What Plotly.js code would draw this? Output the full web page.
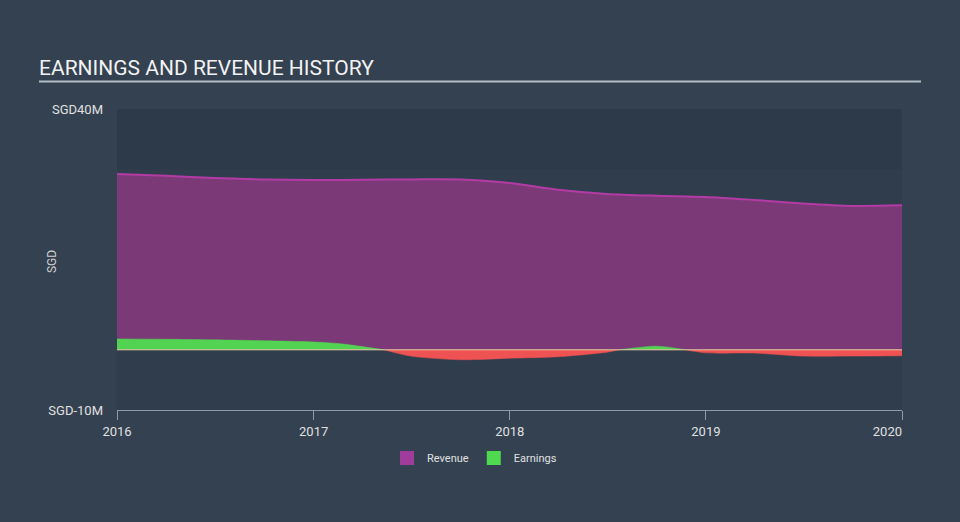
<!DOCTYPE html>
<html>
<head>
<meta charset="utf-8">
<script src="https://cdn.plot.ly/plotly-3.0.1.min.js"></script>
<style>
html,body{margin:0;padding:0;background:#334151;}
#chart{width:960px;height:522px;}
</style>
</head>
<body>
<div id="chart"></div>
<script>
// ---- data (SGD millions) ----
const revenueDates = ['2016-01-01','2016-04-01','2016-07-01','2016-10-01','2017-01-01','2017-04-01','2017-07-01','2017-10-01','2018-01-01','2018-04-01','2018-07-01','2018-10-01','2019-01-01','2019-04-01','2019-07-01','2019-10-01','2020-01-01'];
const revenue = [29.2, 28.9, 28.55, 28.3, 28.2, 28.25, 28.3, 28.3, 27.7, 26.6, 25.9, 25.6, 25.4, 24.9, 24.3, 23.9, 24.0];

const earningsDates = ['2016-01-01','2016-04-01','2016-07-01','2016-10-01','2017-01-01','2017-02-20','2017-05-12','2017-07-01','2017-10-01','2018-01-01','2018-04-01','2018-07-01','2018-07-24','2018-10-01','2018-11-24','2019-01-01','2019-04-01','2019-07-01','2019-10-01','2020-01-01'];
const earnings = [1.8, 1.75, 1.65, 1.5, 1.3, 1.0, 0, -1.05, -1.65, -1.4, -1.15, -0.4, 0, 0.6, 0, -0.5, -0.55, -1.05, -1.05, -1.0];

const yTickVals = [40, -10];
const yTickText = ['SGD40M', 'SGD-10M'];
const xTickVals = ['2016-01-01','2017-01-01','2018-01-01','2019-01-01','2020-01-01'];
const xTickText = ['2016','2017','2018','2019','2020\u2007\u2007\u2007\u2007'];

const earnPos = earnings.map(v => v >= 0 ? v : null);
const earnNeg = earnings.map(v => v <= 0 ? v : null);

const traces = [
  {x: revenueDates, y: revenue, type: 'scatter', mode: 'lines', name: 'Revenue',
   line: {color: '#b43ba5', width: 2, shape: 'spline', smoothing: 0.8},
   fill: 'tozeroy', fillcolor: '#7b3a77', showlegend: false, hoverinfo: 'skip'},
  {x: earningsDates, y: earnPos, type: 'scatter', mode: 'lines', name: 'Earnings',
   line: {color: '#52d452', width: 0.5, shape: 'spline', smoothing: 0.8},
   fill: 'tozeroy', fillcolor: '#52d452', connectgaps: false, showlegend: false, hoverinfo: 'skip'},
  {x: earningsDates, y: earnNeg, type: 'scatter', mode: 'lines', name: 'Earnings (loss)',
   line: {color: '#ee5252', width: 0.5, shape: 'spline', smoothing: 0.8},
   fill: 'tozeroy', fillcolor: '#ee5252', connectgaps: false, showlegend: false, hoverinfo: 'skip'},
  // legend entries
  {x: [null], y: [null], type: 'scatter', mode: 'markers', name: 'Revenue',
   marker: {symbol: 'square', size: 14, color: '#a03d9c'}},
  {x: [null], y: [null], type: 'scatter', mode: 'markers', name: 'Earnings',
   marker: {symbol: 'square', size: 14, color: '#4fd94f'}}
];

const layout = {
  width: 960, height: 522,
  paper_bgcolor: '#334151',
  plot_bgcolor: '#2f3d4d',
  font: {family: 'Roboto, sans-serif', color: '#e0e0e0'},
  margin: {l: 117, r: 58, t: 109, b: 112, pad: 0},
  title: {text: 'EARNINGS AND REVENUE HISTORY', font: {family: 'Roboto', size: 21, color: '#f2f2f2'},
          xref: 'container', yref: 'container', x: 39/960, xanchor: 'left', y: 1 - 68/522, yanchor: 'middle'},
  xaxis: {type: 'date', range: ['2016-01-01', '2020-01-01'], tickvals: xTickVals, ticktext: xTickText,
          ticks: 'outside', ticklen: 9, tickcolor: '#8d9aa8', tickwidth: 1,
          showline: true, linecolor: '#8d9aa8', linewidth: 1, showgrid: false, zeroline: false,
          tickfont: {size: 13, color: '#e0e0e0'}, fixedrange: true},
  yaxis: {range: [-10, 40], tickvals: yTickVals, ticktext: yTickText, ticks: '',
          showline: false, showgrid: false, zeroline: false, ticklabelstandoff: 13,
          tickfont: {size: 13, color: '#e0e0e0'}, fixedrange: true},
  shapes: [
    {type: 'rect', xref: 'paper', yref: 'y', x0: 0, x1: 1, y0: 30, y1: 40, fillcolor: '#2c3a49', line: {width: 0}, layer: 'below'},
    {type: 'line', xref: 'paper', yref: 'y', x0: 0, x1: 1, y0: 0, y1: 0, line: {color: '#e8cda2', width: 1}, layer: 'above'},
    {type: 'line', xref: 'paper', yref: 'paper', x0: (39-117)/785, x1: (921-117)/785, y0: (410-81.5)/301, y1: (410-81.5)/301,
     line: {color: '#b3bcc6', width: 2}}
  ],
  annotations: [
    {text: 'SGD', textangle: -90, xref: 'paper', yref: 'paper', x: (52-117)/785, y: (410-262)/301,
     xanchor: 'center', yanchor: 'middle', showarrow: false, font: {size: 12, color: '#d0d0d0'}}
  ],
  legend: {orientation: 'h', xref: 'paper', yref: 'paper', x: (387-117)/785, xanchor: 'left', y: (410-458)/301, yanchor: 'middle',
           font: {size: 11, color: '#e0e0e0'}, bgcolor: 'rgba(0,0,0,0)', itemclick: false, itemdoubleclick: false}
};

Plotly.newPlot('chart', traces, layout, {displayModeBar: false, staticPlot: true});
</script>
</body>
</html>
